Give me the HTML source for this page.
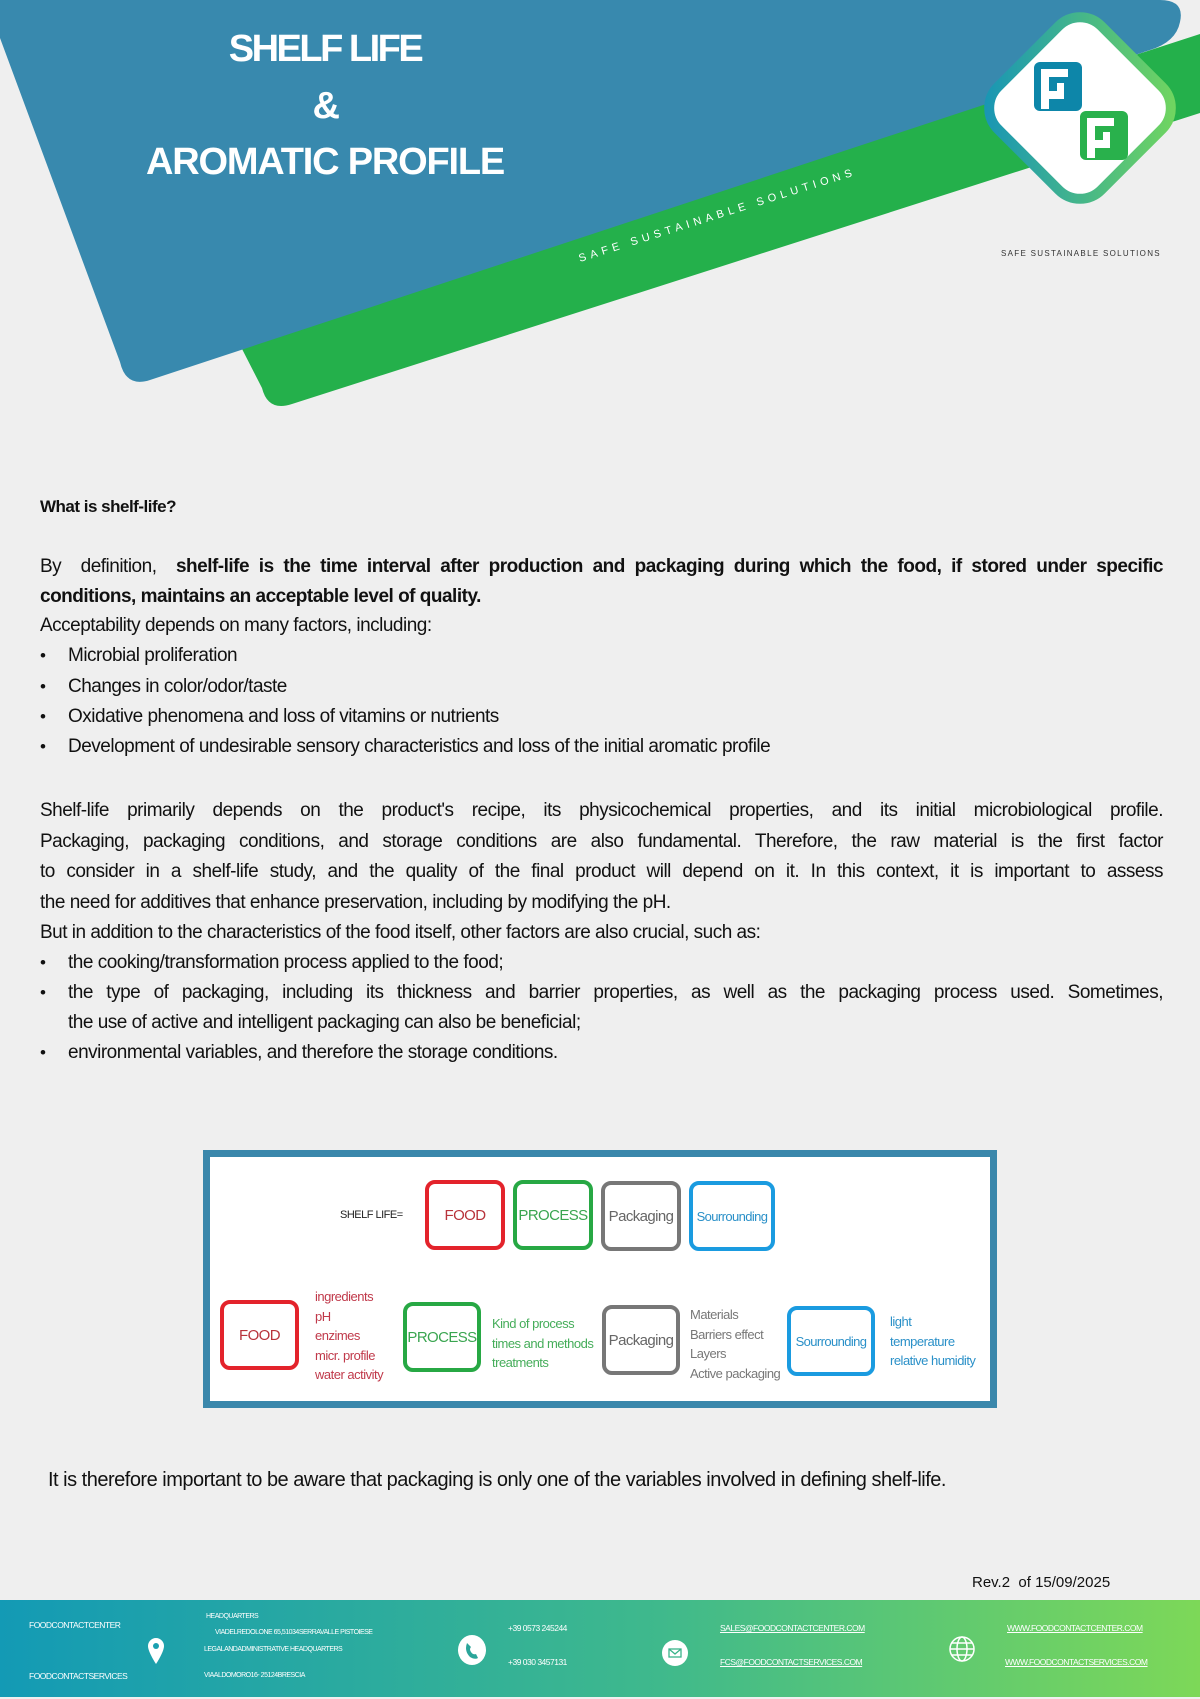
<!DOCTYPE html>
<html><head><meta charset="utf-8"><style>
*{margin:0;padding:0;box-sizing:border-box}
body{width:1200px;height:1699px;background:#efefef;position:relative;overflow:hidden;font-family:"Liberation Sans",sans-serif;color:#111}
.abs{position:absolute}
.t{position:absolute;left:40px;width:1123px;font-size:19px;letter-spacing:-0.5px;line-height:30px;white-space:nowrap}
.j{text-align:justify;text-align-last:justify;white-space:normal}
.b{font-weight:bold}
.li{padding-left:28px}
.li:before{content:"•";position:absolute;left:0;font-size:17px}
.title{position:absolute;color:#fff;font-weight:bold;font-size:38px;letter-spacing:-2.5px;text-align:center;width:500px;left:75px}
.bx{position:absolute;border:4px solid;border-radius:10px;background:#fff;display:flex;align-items:center;justify-content:center;font-size:15px;letter-spacing:-0.6px}
.sm{position:absolute;font-size:13px;line-height:19.5px;letter-spacing:-0.5px;white-space:nowrap}
.ft{position:absolute;color:#fff;font-size:8.5px;letter-spacing:-0.5px;white-space:nowrap}
.u{text-decoration:underline}
</style></head><body>
<svg class="abs" style="left:0;top:0" width="1200" height="430">
<path d="M240,345 L1200,34 L1200,113 L292,404 Q268,412 262,388 Z" fill="#24b04b"/>
<path d="M0,0 L1160,0 Q1185,0 1180,22 Q1176,42 1150,50 L150,380 Q126,388 120,362 L0,38 Z" fill="#3889ae"/>
<text transform="translate(580,262) rotate(-17.5)" fill="#fff" font-size="11" letter-spacing="4.5" font-family="Liberation Sans">SAFE  SUSTAINABLE SOLUTIONS</text>
<defs><linearGradient id="lg" x1="0" y1="1" x2="1" y2="0"><stop offset="0" stop-color="#1593b8"/><stop offset="1" stop-color="#74d85c"/></linearGradient></defs>
<rect x="1007" y="35" width="146" height="146" rx="30" transform="rotate(45 1080 108)" fill="#fff" stroke="url(#lg)" stroke-width="10"/>
<rect x="1034" y="62" width="48" height="49" rx="6" fill="#0d86a9"/>
<path d="M1041,69 h27 v8 h-19 v6 h15 v16 h-15 v10 h-8z M1049,83 v8 h8 v-8z" fill="#fff"/>
<rect x="1080" y="111" width="48" height="49" rx="6" fill="#29b14c"/>
<path d="M1087,118 h27 v8 h-19 v6 h15 v16 h-15 v10 h-8z M1095,132 v8 h8 v-8z" fill="#fff"/>
<text x="1001" y="256" font-size="8" letter-spacing="1.3" fill="#333" font-family="Liberation Sans">SAFE SUSTAINABLE  SOLUTIONS</text>
</svg>
<div class="title" style="top:28px">SHELF LIFE</div>
<div class="title" style="top:85px">&amp;</div>
<div class="title" style="top:141px;letter-spacing:-1.2px">AROMATIC PROFILE</div>

<div class="t b" style="top:492px;font-size:17px">What is shelf-life?</div>
<div class="t j" style="top:552px">By&nbsp; definition,&nbsp; <b>shelf-life is the time interval after production and packaging during which the food, if stored under specific</b></div>
<div class="t b" style="top:582px">conditions, maintains an acceptable level of quality.</div>
<div class="t" style="top:611px">Acceptability depends on many factors, including:</div>
<div class="t li" style="top:641px">Microbial proliferation</div>
<div class="t li" style="top:672px">Changes in color/odor/taste</div>
<div class="t li" style="top:702px">Oxidative phenomena and loss of vitamins or nutrients</div>
<div class="t li" style="top:732px">Development of undesirable sensory characteristics and loss of the initial aromatic profile</div>
<div class="t j" style="top:796px">Shelf-life primarily depends on the product's recipe, its physicochemical properties, and its initial microbiological profile.</div>
<div class="t j" style="top:827px">Packaging, packaging conditions, and storage conditions are also fundamental. Therefore, the raw material is the first factor</div>
<div class="t j" style="top:857px">to consider in a shelf-life study, and the quality of the final product will depend on it. In this context, it is important to assess</div>
<div class="t" style="top:888px">the need for additives that enhance preservation, including by modifying the pH.</div>
<div class="t" style="top:918px">But in addition to the characteristics of the food itself, other factors are also crucial, such as:</div>
<div class="t li" style="top:948px">the cooking/transformation process applied to the food;</div>
<div class="t li j" style="top:978px">the type of packaging, including its thickness and barrier properties, as well as the packaging process used. Sometimes,</div>
<div class="t" style="top:1008px;padding-left:28px">the use of active and intelligent packaging can also be beneficial;</div>
<div class="t li" style="top:1038px">environmental variables, and therefore the storage conditions.</div>

<div class="abs" style="left:203px;top:1150px;width:794px;height:258px;border:7px solid #3a87ab;background:#fff"></div>
<div class="sm" style="left:340px;top:1206px;font-size:11px;color:#222">SHELF LIFE=</div>
<div class="bx" style="left:425px;top:1180px;width:80px;height:70px;border-color:#e3232b;color:#b8333b">FOOD</div>
<div class="bx" style="left:513px;top:1180px;width:80px;height:70px;border-color:#27a844;color:#3aa550">PROCESS</div>
<div class="bx" style="left:601px;top:1181px;width:80px;height:70px;border-color:#777;color:#666">Packaging</div>
<div class="bx" style="left:689px;top:1181px;width:86px;height:70px;border-color:#1a9be0;color:#2a90c8;font-size:13px">Sourrounding</div>
<div class="bx" style="left:220px;top:1300px;width:79px;height:70px;border-color:#e3232b;color:#b8333b">FOOD</div>
<div class="sm" style="left:315px;top:1287px;color:#c0394a">ingredients<br>pH<br>enzimes<br>micr. profile<br>water activity</div>
<div class="bx" style="left:403px;top:1302px;width:78px;height:70px;border-color:#27a844;color:#3aa550">PROCESS</div>
<div class="sm" style="left:492px;top:1314px;color:#45ad5a">Kind of process<br>times and methods<br>treatments</div>
<div class="bx" style="left:602px;top:1305px;width:78px;height:70px;border-color:#777;color:#666">Packaging</div>
<div class="sm" style="left:690px;top:1305px;color:#777">Materials<br>Barriers effect<br>Layers<br>Active packaging</div>
<div class="bx" style="left:787px;top:1306px;width:88px;height:70px;border-color:#1a9be0;color:#2a90c8;font-size:13px">Sourrounding</div>
<div class="sm" style="left:890px;top:1312px;color:#2a90c8">light<br>temperature<br>relative humidity</div>

<div class="t" style="top:1465px;left:48px;font-size:20px">It is therefore important to be aware that packaging is only one of the variables involved in defining shelf-life.</div>
<div class="abs" style="left:972px;top:1574px;font-size:15px">Rev.2&nbsp; of 15/09/2025</div>

<div class="abs" style="left:0;top:1600px;width:1200px;height:97px;background:linear-gradient(90deg,#139ab5,#3fb98c 55%,#7dd858)"></div>
<div class="ft" style="left:29px;top:1620px">FOODCONTACTCENTER</div>
<div class="ft" style="left:29px;top:1671px">FOODCONTACTSERVICES</div>
<div class="ft" style="left:206px;top:1613px;font-size:7px">HEADQUARTERS</div>
<div class="ft" style="left:215px;top:1629px;font-size:7px">VIADELREDOLONE 65,51034SERRAVALLE PISTOIESE</div>
<div class="ft" style="left:204px;top:1646px;font-size:7px">LEGALANDADMINISTRATIVE HEADQUARTERS</div>
<div class="ft" style="left:204px;top:1672px;font-size:7px">VIAALDOMORO16- 25124BRESCIA</div>
<svg class="abs" style="left:148px;top:1638px" width="16" height="26"><path d="M8,0 A8,8 0 0 1 16,8 C16,14 8,26 8,26 C8,26 0,14 0,8 A8,8 0 0 1 8,0Z" fill="#fff"/><circle cx="8" cy="8" r="3" fill="#1aa0b0"/></svg>
<svg class="abs" style="left:458px;top:1635px" width="28" height="30"><ellipse cx="14" cy="15" rx="14" ry="15" fill="#fff"/><path d="M9,8 q-3,8 3,14 q5,3 8,1 l-2,-4 q-3,1 -5,-2 q-2,-3 0,-5z" fill="#2aa59a"/></svg>
<svg class="abs" style="left:662px;top:1640px" width="26" height="26"><circle cx="13" cy="13" r="13" fill="#fff"/><rect x="7" y="9" width="12" height="8" fill="none" stroke="#3ab48a" stroke-width="1.3"/><path d="M7,9 l6,5 l6,-5" fill="none" stroke="#3ab48a" stroke-width="1.3"/></svg>
<div class="ft" style="left:508px;top:1623px">+39 0573 245244</div>
<div class="ft" style="left:508px;top:1657px">+39 030 3457131</div>
<div class="ft u" style="left:720px;top:1623px">SALES@FOODCONTACTCENTER.COM</div>
<div class="ft u" style="left:720px;top:1657px">FCS@FOODCONTACTSERVICES.COM</div>
<svg class="abs" style="left:948px;top:1635px" width="28" height="28"><g fill="none" stroke="#fff" stroke-width="1.5"><circle cx="14" cy="14" r="12"/><ellipse cx="14" cy="14" rx="5" ry="12"/><path d="M2,14h24M4,8h20M4,20h20"/></g></svg>
<div class="ft u" style="left:1007px;top:1623px">WWW.FOODCONTACTCENTER.COM</div>
<div class="ft u" style="left:1005px;top:1657px">WWW.FOODCONTACTSERVICES.COM</div>
</body></html>
